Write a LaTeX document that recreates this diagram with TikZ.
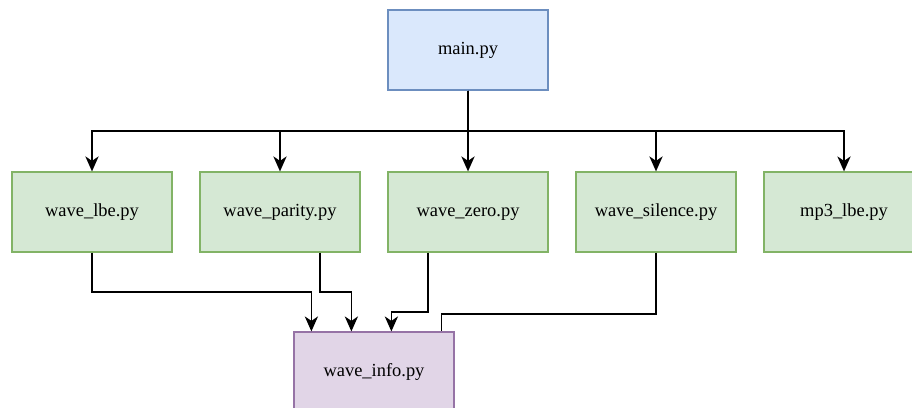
\documentclass[tikz,border=0pt]{standalone}
\usepackage{fontspec}
\setmainfont{Liberation Serif}
\usetikzlibrary{arrows.meta}
\definecolor{mainfill}{HTML}{DAE8FC}
\definecolor{mainline}{HTML}{6C8EBF}
\definecolor{wavefill}{HTML}{D5E8D4}
\definecolor{waveline}{HTML}{82B366}
\definecolor{infofill}{HTML}{E1D5E7}
\definecolor{infoline}{HTML}{9673A6}
\tikzset{
  filebox/.style={draw, line width=0.7pt, minimum width=3.2cm, minimum height=1.6cm, text height=1.6ex, text depth=0.5ex, font=\fontsize{10.5}{12}\selectfont},
  mainbox/.style={filebox, fill=mainfill, draw=mainline},
  wavebox/.style={filebox, fill=wavefill, draw=waveline},
  infobox/.style={filebox, fill=infofill, draw=infoline},
  link/.style={line width=1pt},
  flow/.style={link, -{Stealth[length=8.5pt,width=7.5pt,inset=2.5pt]}}
}
\begin{document}
\begin{tikzpicture}[x=0.02cm,y=-0.02cm]
                \clip (0,0) rectangle (912,407);
                \node[mainbox] (main) at (468,50) {main.py};
                \node[wavebox] (lbe) at (92,212) {wave\_lbe.py};
                \node[wavebox] (parity) at (280,212) {wave\_parity.py};
                \node[wavebox] (zero) at (468,212) {wave\_zero.py};
                \node[wavebox] (silence) at (656,212) {wave\_silence.py};
                \node[wavebox] (mp3) at (844,212) {mp3\_lbe.py};
                \node[infobox] (info) at (374,372) {wave\_info.py};
                \coordinate (bus) at (468,131);
                \foreach \n in {lbe,parity,zero,silence,mp3}
                    \draw[flow] (main.south) -- (bus) -| (\n.north);
                \coordinate (i1) at ([xshift=0.36cm]info.north west);
                \coordinate (i2) at ([xshift=1.16cm]info.north west);
                \coordinate (i3) at ([xshift=1.96cm]info.north west);
                \coordinate (i4) at ([xshift=2.96cm]info.north west);
                \draw[flow] (lbe.south) |- ([yshift=0.79cm]i1) -- (i1);
                \draw[flow] ([xshift=0.8cm]parity.south) |- ([yshift=0.79cm]i2) -- (i2);
                \draw[flow] ([xshift=-0.8cm]zero.south) |- ([yshift=0.39cm]i3) -- (i3);
                \draw[link] (silence.south) |- ([yshift=0.35cm]i4) -- (i4);
            \end{tikzpicture}
\end{document}
